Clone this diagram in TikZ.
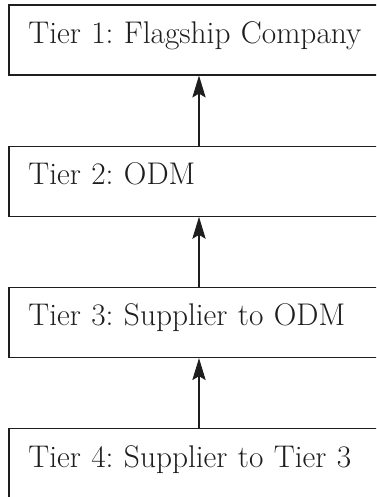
\documentclass[tikz,border=0pt]{standalone}
\usepackage{tikz}
\usetikzlibrary{arrows.meta,positioning}
\definecolor{TierLinea}{RGB}{30, 30, 30}

% sizes in pt (one unit of the picture = 0.75pt)
\tikzset{
  tierbox/.style={draw=TierLinea,line width=0.8pt,minimum width=285pt,minimum height=52.5pt,
    text width=256pt,align=left,inner sep=0pt,text height=0.72em,text depth=0.22em,
    font=\fontsize{23.5}{27}\selectfont\frenchspacing,text=TierLinea},
  tierarrow/.style={draw=TierLinea,line width=0.8pt,-{Stealth[length=16.5pt,width=10pt,inset=3pt]}}
}

\begin{document}
\begin{tikzpicture}[x=0.75pt,y=-0.75pt]
  \clip (0,0) rectangle (376,497);
  \foreach \txt [count=\i] in {Tier 1: Flagship Company,Tier 2: ODM,Tier 3: Supplier to ODM,Tier 4: Supplier to Tier 3}{
    \node[tierbox] (t\i) at (199,{40+141.3*(\i-1)}) {\txt};
  }
  \foreach \i [evaluate=\i as \j using int(\i+1)] in {1,2,3}{
    \draw[tierarrow] (t\j.north) -- (t\i.south);
  }
\end{tikzpicture}
\end{document}
